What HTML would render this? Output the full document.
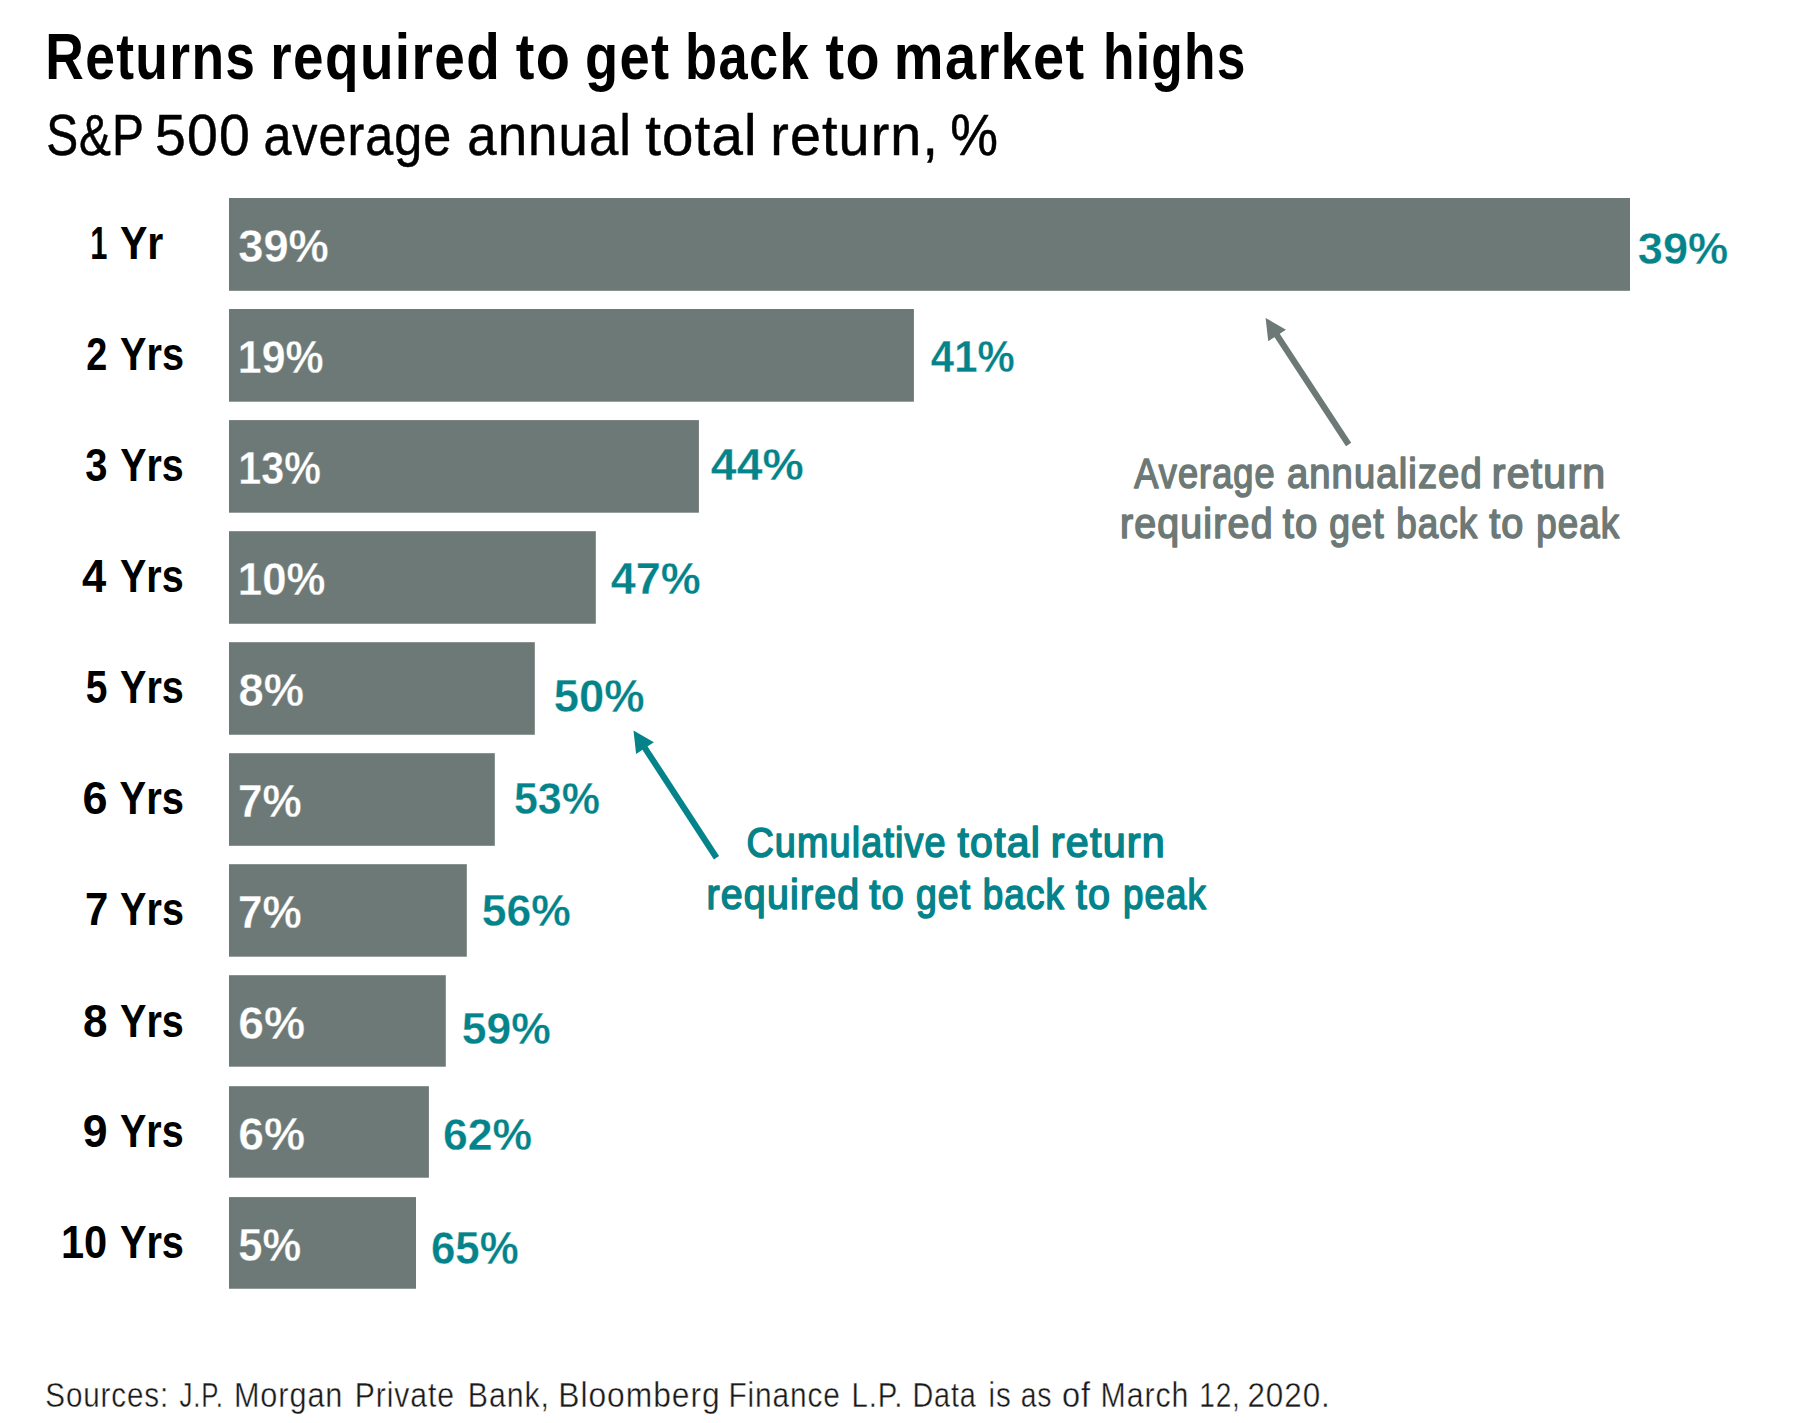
<!DOCTYPE html><html><head><meta charset="utf-8"><title>Returns required to get back to market highs</title><style>html,body{margin:0;padding:0;background:#fff;}svg{display:block;}text{font-family:"Liberation Sans",sans-serif;}</style></head><body>
<svg width="1800" height="1423" viewBox="0 0 1800 1423">
<rect x="0" y="0" width="1800" height="1423" fill="#ffffff"/>
<rect x="229.0" y="198.0" width="1401.00" height="92.80" fill="#6d7976"/>
<rect x="229.0" y="309.0" width="684.90" height="92.70" fill="#6d7976"/>
<rect x="229.0" y="420.1" width="469.90" height="92.60" fill="#6d7976"/>
<rect x="229.0" y="531.2" width="366.80" height="92.55" fill="#6d7976"/>
<rect x="229.0" y="642.2" width="305.80" height="92.55" fill="#6d7976"/>
<rect x="229.0" y="753.2" width="265.80" height="92.60" fill="#6d7976"/>
<rect x="229.0" y="864.2" width="237.80" height="92.50" fill="#6d7976"/>
<rect x="229.0" y="975.2" width="216.80" height="91.50" fill="#6d7976"/>
<rect x="229.0" y="1086.2" width="199.90" height="91.50" fill="#6d7976"/>
<rect x="229.0" y="1197.1" width="187.00" height="91.65" fill="#6d7976"/>
<line x1="1348.6" y1="444.5" x2="1275.47" y2="332.95" stroke="#6d7976" stroke-width="6.2"/><polygon points="1265.6,317.9 1285.98,329.65 1268.25,341.27" fill="#6d7976"/>
<line x1="716.5" y1="857.7" x2="643.34" y2="745.57" stroke="#04838a" stroke-width="6.2"/><polygon points="633.5,730.5 653.85,742.29 636.10,753.88" fill="#04838a"/>
<text id="title_0" transform="translate(45.26 78.50) scale(0.8345 1)" font-size="64" font-weight="bold" fill="#000000" letter-spacing="1.60">Returns</text>
<text id="title_1" transform="translate(270.37 78.50) scale(0.8581 1)" font-size="64" font-weight="bold" fill="#000000" letter-spacing="1.60">required</text>
<text id="title_2" transform="translate(515.80 78.50) scale(0.8746 1)" font-size="64" font-weight="bold" fill="#000000" letter-spacing="1.60">to</text>
<text id="title_3" transform="translate(585.00 78.50) scale(0.8484 1)" font-size="64" font-weight="bold" fill="#000000" letter-spacing="1.60">get</text>
<text id="title_4" transform="translate(685.12 78.50) scale(0.8193 1)" font-size="64" font-weight="bold" fill="#000000" letter-spacing="1.60">back</text>
<text id="title_5" transform="translate(825.60 78.50) scale(0.8713 1)" font-size="64" font-weight="bold" fill="#000000" letter-spacing="1.60">to</text>
<text id="title_6" transform="translate(893.80 78.50) scale(0.8741 1)" font-size="64" font-weight="bold" fill="#000000" letter-spacing="1.60">market</text>
<text id="title_7" transform="translate(1102.98 78.50) scale(0.8049 1)" font-size="64" font-weight="bold" fill="#000000" letter-spacing="1.60">highs</text>
<text id="sub_0" transform="translate(46.16 155.00) scale(0.8249 1)" font-size="58" font-weight="normal" fill="#000000" stroke="#000000" stroke-width="0.5" stroke-linejoin="round" letter-spacing="1.16">S&amp;P</text>
<text id="sub_1" transform="translate(155.03 155.00) scale(0.9556 1)" font-size="58" font-weight="normal" fill="#000000" stroke="#000000" stroke-width="0.5" stroke-linejoin="round" letter-spacing="1.16">500</text>
<text id="sub_2" transform="translate(263.38 155.00) scale(0.8675 1)" font-size="58" font-weight="normal" fill="#000000" stroke="#000000" stroke-width="0.5" stroke-linejoin="round" letter-spacing="1.16">average</text>
<text id="sub_3" transform="translate(467.31 155.00) scale(0.9102 1)" font-size="58" font-weight="normal" fill="#000000" stroke="#000000" stroke-width="0.5" stroke-linejoin="round" letter-spacing="1.16">annual</text>
<text id="sub_4" transform="translate(645.24 155.00) scale(0.9740 1)" font-size="58" font-weight="normal" fill="#000000" stroke="#000000" stroke-width="0.5" stroke-linejoin="round" letter-spacing="1.16">total</text>
<text id="sub_5" transform="translate(770.26 155.00) scale(0.9606 1)" font-size="58" font-weight="normal" fill="#000000" stroke="#000000" stroke-width="0.5" stroke-linejoin="round" letter-spacing="1.16">return,</text>
<text id="sub_6" transform="translate(950.18 155.00) scale(0.9258 1)" font-size="58" font-weight="normal" fill="#000000" stroke="#000000" stroke-width="0.5" stroke-linejoin="round" letter-spacing="1.16">%</text>
<text id="row0_n" transform="translate(90.19 259.00) scale(0.6565 1)" font-size="47" font-weight="bold" fill="#000000">1</text>
<text id="row0_w" transform="translate(119.90 259.00) scale(0.8754 1)" font-size="47" font-weight="bold" fill="#000000">Yr</text>
<text id="row1_n" transform="translate(86.20 370.40) scale(0.8042 1)" font-size="47" font-weight="bold" fill="#000000">2</text>
<text id="row1_w" transform="translate(120.00 370.40) scale(0.8441 1)" font-size="47" font-weight="bold" fill="#000000">Yrs</text>
<text id="row2_n" transform="translate(85.35 481.20) scale(0.8500 1)" font-size="47" font-weight="bold" fill="#000000">3</text>
<text id="row2_w" transform="translate(120.20 481.20) scale(0.8387 1)" font-size="47" font-weight="bold" fill="#000000">Yrs</text>
<text id="row3_n" transform="translate(82.00 591.90) scale(0.9269 1)" font-size="47" font-weight="bold" fill="#000000">4</text>
<text id="row3_w" transform="translate(120.00 591.90) scale(0.8414 1)" font-size="47" font-weight="bold" fill="#000000">Yrs</text>
<text id="row4_n" transform="translate(85.67 702.60) scale(0.8292 1)" font-size="47" font-weight="bold" fill="#000000">5</text>
<text id="row4_w" transform="translate(120.00 702.60) scale(0.8427 1)" font-size="47" font-weight="bold" fill="#000000">Yrs</text>
<text id="row5_n" transform="translate(82.44 814.30) scale(0.9583 1)" font-size="47" font-weight="bold" fill="#000000">6</text>
<text id="row5_w" transform="translate(119.60 814.30) scale(0.8494 1)" font-size="47" font-weight="bold" fill="#000000">Yrs</text>
<text id="row6_n" transform="translate(84.92 925.40) scale(0.8913 1)" font-size="47" font-weight="bold" fill="#000000">7</text>
<text id="row6_w" transform="translate(120.10 925.40) scale(0.8427 1)" font-size="47" font-weight="bold" fill="#000000">Yrs</text>
<text id="row7_n" transform="translate(82.96 1036.50) scale(0.9375 1)" font-size="47" font-weight="bold" fill="#000000">8</text>
<text id="row7_w" transform="translate(120.00 1036.50) scale(0.8427 1)" font-size="47" font-weight="bold" fill="#000000">Yrs</text>
<text id="row8_n" transform="translate(82.65 1147.00) scale(0.9500 1)" font-size="47" font-weight="bold" fill="#000000">9</text>
<text id="row8_w" transform="translate(120.00 1147.00) scale(0.8414 1)" font-size="47" font-weight="bold" fill="#000000">Yrs</text>
<text id="row9_n" transform="translate(60.93 1258.40) scale(0.8852 1)" font-size="47" font-weight="bold" fill="#000000">10</text>
<text id="row9_w" transform="translate(119.90 1258.40) scale(0.8454 1)" font-size="47" font-weight="bold" fill="#000000">Yrs</text>
<text id="w0" transform="translate(238.27 262.40) scale(0.9837 1)" font-size="46" font-weight="bold" fill="#ffffff" stroke="#6d7976" stroke-width="0.3" stroke-linejoin="round">39%</text>
<text id="w1" transform="translate(237.80 372.80) scale(0.9317 1)" font-size="46" font-weight="bold" fill="#ffffff" stroke="#6d7976" stroke-width="0.3" stroke-linejoin="round">19%</text>
<text id="w2" transform="translate(238.37 483.90) scale(0.8969 1)" font-size="46" font-weight="bold" fill="#ffffff" stroke="#6d7976" stroke-width="0.3" stroke-linejoin="round">13%</text>
<text id="w3" transform="translate(237.85 595.00) scale(0.9520 1)" font-size="46" font-weight="bold" fill="#ffffff" stroke="#6d7976" stroke-width="0.3" stroke-linejoin="round">10%</text>
<text id="w4" transform="translate(238.47 706.10) scale(0.9847 1)" font-size="46" font-weight="bold" fill="#ffffff" stroke="#6d7976" stroke-width="0.3" stroke-linejoin="round">8%</text>
<text id="w5" transform="translate(237.90 816.90) scale(0.9583 1)" font-size="46" font-weight="bold" fill="#ffffff" stroke="#6d7976" stroke-width="0.3" stroke-linejoin="round">7%</text>
<text id="w6" transform="translate(237.90 928.00) scale(0.9583 1)" font-size="46" font-weight="bold" fill="#ffffff" stroke="#6d7976" stroke-width="0.3" stroke-linejoin="round">7%</text>
<text id="w7" transform="translate(238.24 1038.90) scale(1.0049 1)" font-size="46" font-weight="bold" fill="#ffffff" stroke="#6d7976" stroke-width="0.3" stroke-linejoin="round">6%</text>
<text id="w8" transform="translate(238.24 1150.00) scale(1.0049 1)" font-size="46" font-weight="bold" fill="#ffffff" stroke="#6d7976" stroke-width="0.3" stroke-linejoin="round">6%</text>
<text id="w9" transform="translate(238.31 1260.60) scale(0.9474 1)" font-size="46" font-weight="bold" fill="#ffffff" stroke="#6d7976" stroke-width="0.3" stroke-linejoin="round">5%</text>
<text id="t0" transform="translate(1637.75 263.90) scale(0.9979 1)" font-size="45.3" font-weight="bold" fill="#04838a" stroke="#ffffff" stroke-width="0.3" stroke-linejoin="round">39%</text>
<text id="t1" transform="translate(930.86 371.80) scale(0.9247 1)" font-size="45.3" font-weight="bold" fill="#04838a" stroke="#ffffff" stroke-width="0.3" stroke-linejoin="round">41%</text>
<text id="t2" transform="translate(710.85 479.80) scale(1.0246 1)" font-size="45.3" font-weight="bold" fill="#04838a" stroke="#ffffff" stroke-width="0.3" stroke-linejoin="round">44%</text>
<text id="t3" transform="translate(610.85 593.75) scale(0.9924 1)" font-size="45.3" font-weight="bold" fill="#04838a" stroke="#ffffff" stroke-width="0.3" stroke-linejoin="round">47%</text>
<text id="t4" transform="translate(553.85 712.10) scale(1.0024 1)" font-size="45.3" font-weight="bold" fill="#04838a" stroke="#ffffff" stroke-width="0.3" stroke-linejoin="round">50%</text>
<text id="t5" transform="translate(513.91 813.75) scale(0.9497 1)" font-size="45.3" font-weight="bold" fill="#04838a" stroke="#ffffff" stroke-width="0.3" stroke-linejoin="round">53%</text>
<text id="t6" transform="translate(481.77 925.80) scale(0.9822 1)" font-size="45.3" font-weight="bold" fill="#04838a" stroke="#ffffff" stroke-width="0.3" stroke-linejoin="round">56%</text>
<text id="t7" transform="translate(461.77 1043.75) scale(0.9822 1)" font-size="45.3" font-weight="bold" fill="#04838a" stroke="#ffffff" stroke-width="0.3" stroke-linejoin="round">59%</text>
<text id="t8" transform="translate(443.07 1150.00) scale(0.9822 1)" font-size="45.3" font-weight="bold" fill="#04838a" stroke="#ffffff" stroke-width="0.3" stroke-linejoin="round">62%</text>
<text id="t9" transform="translate(430.99 1264.00) scale(0.9676 1)" font-size="45.3" font-weight="bold" fill="#04838a" stroke="#ffffff" stroke-width="0.3" stroke-linejoin="round">65%</text>
<text id="ga1_0" transform="translate(1134.19 487.60) scale(0.8607 1)" font-size="42" font-weight="normal" fill="#6d7976" stroke="#6d7976" stroke-width="1.6" stroke-linejoin="round" letter-spacing="1.26">Average</text>
<text id="ga1_1" transform="translate(1286.92 487.60) scale(0.9081 1)" font-size="42" font-weight="normal" fill="#6d7976" stroke="#6d7976" stroke-width="1.6" stroke-linejoin="round" letter-spacing="1.26">annualized</text>
<text id="ga1_2" transform="translate(1491.73 487.60) scale(0.9783 1)" font-size="42" font-weight="normal" fill="#6d7976" stroke="#6d7976" stroke-width="1.6" stroke-linejoin="round" letter-spacing="1.26">return</text>
<text id="ga2_0" transform="translate(1119.88 538.40) scale(0.9372 1)" font-size="42" font-weight="normal" fill="#6d7976" stroke="#6d7976" stroke-width="1.6" stroke-linejoin="round" letter-spacing="1.26">required</text>
<text id="ga2_1" transform="translate(1282.66 538.40) scale(0.9554 1)" font-size="42" font-weight="normal" fill="#6d7976" stroke="#6d7976" stroke-width="1.6" stroke-linejoin="round" letter-spacing="1.26">to</text>
<text id="ga2_2" transform="translate(1329.32 538.40) scale(0.8911 1)" font-size="42" font-weight="normal" fill="#6d7976" stroke="#6d7976" stroke-width="1.6" stroke-linejoin="round" letter-spacing="1.26">get</text>
<text id="ga2_3" transform="translate(1396.15 538.40) scale(0.8765 1)" font-size="42" font-weight="normal" fill="#6d7976" stroke="#6d7976" stroke-width="1.6" stroke-linejoin="round" letter-spacing="1.26">back</text>
<text id="ga2_4" transform="translate(1489.16 538.40) scale(0.9445 1)" font-size="42" font-weight="normal" fill="#6d7976" stroke="#6d7976" stroke-width="1.6" stroke-linejoin="round" letter-spacing="1.26">to</text>
<text id="ga2_5" transform="translate(1536.35 538.40) scale(0.8737 1)" font-size="42" font-weight="normal" fill="#6d7976" stroke="#6d7976" stroke-width="1.6" stroke-linejoin="round" letter-spacing="1.26">peak</text>
<text id="ta1_0" transform="translate(746.42 857.40) scale(0.8996 1)" font-size="42" font-weight="normal" fill="#04838a" stroke="#04838a" stroke-width="1.6" stroke-linejoin="round" letter-spacing="1.26">Cumulative</text>
<text id="ta1_1" transform="translate(957.48 857.40) scale(0.9762 1)" font-size="42" font-weight="normal" fill="#04838a" stroke="#04838a" stroke-width="1.6" stroke-linejoin="round" letter-spacing="1.26">total</text>
<text id="ta1_2" transform="translate(1050.82 857.40) scale(0.9818 1)" font-size="42" font-weight="normal" fill="#04838a" stroke="#04838a" stroke-width="1.6" stroke-linejoin="round" letter-spacing="1.26">return</text>
<text id="ta2_0" transform="translate(706.48 908.60) scale(0.9372 1)" font-size="42" font-weight="normal" fill="#04838a" stroke="#04838a" stroke-width="1.6" stroke-linejoin="round" letter-spacing="1.26">required</text>
<text id="ta2_1" transform="translate(869.26 908.60) scale(0.9554 1)" font-size="42" font-weight="normal" fill="#04838a" stroke="#04838a" stroke-width="1.6" stroke-linejoin="round" letter-spacing="1.26">to</text>
<text id="ta2_2" transform="translate(915.92 908.60) scale(0.8911 1)" font-size="42" font-weight="normal" fill="#04838a" stroke="#04838a" stroke-width="1.6" stroke-linejoin="round" letter-spacing="1.26">get</text>
<text id="ta2_3" transform="translate(982.75 908.60) scale(0.8765 1)" font-size="42" font-weight="normal" fill="#04838a" stroke="#04838a" stroke-width="1.6" stroke-linejoin="round" letter-spacing="1.26">back</text>
<text id="ta2_4" transform="translate(1075.76 908.60) scale(0.9445 1)" font-size="42" font-weight="normal" fill="#04838a" stroke="#04838a" stroke-width="1.6" stroke-linejoin="round" letter-spacing="1.26">to</text>
<text id="ta2_5" transform="translate(1122.95 908.60) scale(0.8737 1)" font-size="42" font-weight="normal" fill="#04838a" stroke="#04838a" stroke-width="1.6" stroke-linejoin="round" letter-spacing="1.26">peak</text>
<text id="foot_0" transform="translate(45.30 1407.20) scale(0.8340 1)" font-size="35.5" font-weight="normal" fill="#1a1a1a" stroke="#ffffff" stroke-width="0.4" stroke-linejoin="round" letter-spacing="1.06">Sources:</text>
<text id="foot_1" transform="translate(179.55 1407.20) scale(0.7273 1)" font-size="35.5" font-weight="normal" fill="#1a1a1a" stroke="#ffffff" stroke-width="0.4" stroke-linejoin="round" letter-spacing="1.06">J.P.</text>
<text id="foot_2" transform="translate(233.90 1407.20) scale(0.8639 1)" font-size="35.5" font-weight="normal" fill="#1a1a1a" stroke="#ffffff" stroke-width="0.4" stroke-linejoin="round" letter-spacing="1.06">Morgan</text>
<text id="foot_3" transform="translate(354.83 1407.20) scale(0.8494 1)" font-size="35.5" font-weight="normal" fill="#1a1a1a" stroke="#ffffff" stroke-width="0.4" stroke-linejoin="round" letter-spacing="1.06">Private</text>
<text id="foot_4" transform="translate(467.82 1407.20) scale(0.8532 1)" font-size="35.5" font-weight="normal" fill="#1a1a1a" stroke="#ffffff" stroke-width="0.4" stroke-linejoin="round" letter-spacing="1.06">Bank,</text>
<text id="foot_5" transform="translate(558.33 1407.20) scale(0.8958 1)" font-size="35.5" font-weight="normal" fill="#1a1a1a" stroke="#ffffff" stroke-width="0.4" stroke-linejoin="round" letter-spacing="1.06">Bloomberg</text>
<text id="foot_6" transform="translate(728.45 1407.20) scale(0.8407 1)" font-size="35.5" font-weight="normal" fill="#1a1a1a" stroke="#ffffff" stroke-width="0.4" stroke-linejoin="round" letter-spacing="1.06">Finance</text>
<text id="foot_7" transform="translate(851.48 1407.20) scale(0.8265 1)" font-size="35.5" font-weight="normal" fill="#1a1a1a" stroke="#ffffff" stroke-width="0.4" stroke-linejoin="round" letter-spacing="1.06">L.P.</text>
<text id="foot_8" transform="translate(912.42 1407.20) scale(0.8101 1)" font-size="35.5" font-weight="normal" fill="#1a1a1a" stroke="#ffffff" stroke-width="0.4" stroke-linejoin="round" letter-spacing="1.06">Data</text>
<text id="foot_9" transform="translate(988.57 1407.20) scale(0.8322 1)" font-size="35.5" font-weight="normal" fill="#1a1a1a" stroke="#ffffff" stroke-width="0.4" stroke-linejoin="round" letter-spacing="1.06">is</text>
<text id="foot_10" transform="translate(1020.74 1407.20) scale(0.7993 1)" font-size="35.5" font-weight="normal" fill="#1a1a1a" stroke="#ffffff" stroke-width="0.4" stroke-linejoin="round" letter-spacing="1.06">as</text>
<text id="foot_11" transform="translate(1061.90 1407.20) scale(0.9181 1)" font-size="35.5" font-weight="normal" fill="#1a1a1a" stroke="#ffffff" stroke-width="0.4" stroke-linejoin="round" letter-spacing="1.06">of</text>
<text id="foot_12" transform="translate(1100.52 1407.20) scale(0.8537 1)" font-size="35.5" font-weight="normal" fill="#1a1a1a" stroke="#ffffff" stroke-width="0.4" stroke-linejoin="round" letter-spacing="1.06">March</text>
<text id="foot_13" transform="translate(1199.26 1407.20) scale(0.7898 1)" font-size="35.5" font-weight="normal" fill="#1a1a1a" stroke="#ffffff" stroke-width="0.4" stroke-linejoin="round" letter-spacing="1.06">12,</text>
<text id="foot_14" transform="translate(1247.44 1407.20) scale(0.8848 1)" font-size="35.5" font-weight="normal" fill="#1a1a1a" stroke="#ffffff" stroke-width="0.4" stroke-linejoin="round" letter-spacing="1.06">2020.</text>
</svg></body></html>
